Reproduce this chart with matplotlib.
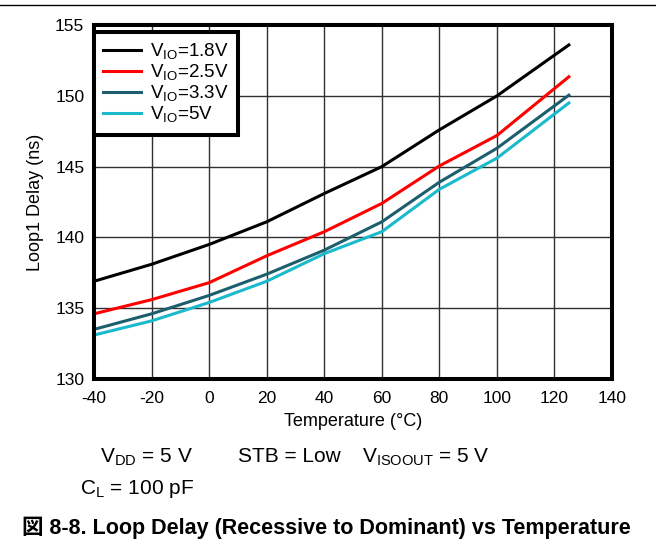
import numpy as np
import matplotlib
matplotlib.use('Agg')
import matplotlib.pyplot as plt

plt.rcParams['font.family'] = ['Liberation Sans', 'Noto Sans CJK JP']
plt.rcParams['mathtext.fontset'] = 'custom'
plt.rcParams['mathtext.rm'] = 'Liberation Sans'
plt.rcParams['axes.unicode_minus'] = False

temperature = [-40, -20, 0, 20, 40, 60, 80, 100, 125]
vio_18 = [136.9, 138.1, 139.5, 141.1, 143.1, 145.0, 147.6, 150.0, 153.6]
vio_25 = [134.6, 135.6, 136.8, 138.7, 140.4, 142.4, 145.05, 147.2, 151.35]
vio_33 = [133.5, 134.6, 135.9, 137.4, 139.1, 141.1, 143.9, 146.3, 150.05]
vio_50 = [133.1, 134.1, 135.4, 136.9, 138.85, 140.4, 143.4, 145.6, 149.5]

series = [
    (vio_18, '#000000', r'V$_{\mathrm{IO}}$=1.8V'),
    (vio_25, '#ff0000', r'V$_{\mathrm{IO}}$=2.5V'),
    (vio_33, '#1d5e6e', r'V$_{\mathrm{IO}}$=3.3V'),
    (vio_50, '#1ab9cc', r'V$_{\mathrm{IO}}$=5V'),
]

fig = plt.figure(figsize=(6.56, 5.46), dpi=100)
ax = fig.add_axes([0.1433, 0.306, 0.933 - 0.1433, 0.954 - 0.306])

for vals, col, lab in series:
    ax.plot(temperature, vals, color=col, lw=2.2, label=lab)

ax.set_xlim(-40, 140)
ax.set_ylim(130, 155)
ax.set_xticks(np.arange(-40, 141, 20))
ax.set_yticks(np.arange(130, 156, 5))
ax.tick_params(length=0, labelsize=12.5)
ax.tick_params(axis='x', pad=9)
ax.tick_params(axis='y', pad=7)
ax.grid(True, color='#303030', lw=1)
ax.set_axisbelow(True)
for s in ax.spines.values():
    s.set_linewidth(2.9)

ax.set_xlabel('Temperature (°C)', fontsize=13, labelpad=5)
ax.set_ylabel('Loop1 Delay (ns)', fontsize=13, labelpad=8)

leg = ax.legend(loc='upper left', bbox_to_anchor=(0.0, 0.981), fontsize=13.5,
                frameon=True, fancybox=False, borderaxespad=0.0,
                handlelength=2.0, labelspacing=0.05, borderpad=0.5,
                handletextpad=0.5)
leg.get_frame().set_edgecolor('black')
leg.get_frame().set_linewidth(2.9)
leg.get_frame().set_alpha(1)

# horizontal rule at top of page
fig.add_artist(plt.Line2D([0, 1], [0.991, 0.991], color='black', lw=1))

fig.text(100 / 656, 1 - 457 / 546, r'V$_{\mathrm{DD}}$ = 5 V', fontsize=15, va='center')
fig.text(238 / 656, 1 - 457 / 546, 'STB = Low', fontsize=15, va='center')
fig.text(362 / 656, 1 - 457 / 546, r'V$_{\mathrm{ISOOUT}}$ = 5 V', fontsize=15, va='center')
fig.text(80 / 656, 1 - 489 / 546, r'C$_{\mathrm{L}}$ = 100 pF', fontsize=15, va='center')
fig.text(22 / 656, 1 - 528 / 546, '図 8-8. Loop Delay (Recessive to Dominant) vs Temperature',
         fontsize=15.5, fontweight='bold', va='center')

fig.savefig('out.png', dpi=100)
